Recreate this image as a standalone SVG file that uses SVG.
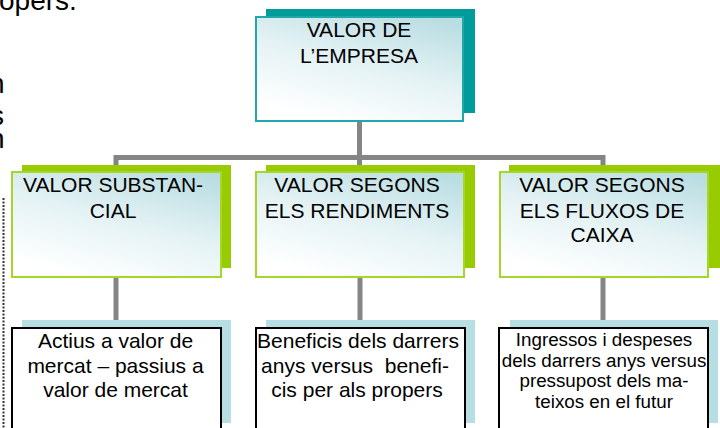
<svg xmlns="http://www.w3.org/2000/svg" width="720" height="428" viewBox="0 0 720 428">
<style>
text{font-family:"Liberation Sans",Arial,sans-serif;fill:#000}
.t{font-size:21px;text-anchor:middle}
.s{font-size:18.8px;text-anchor:middle}
.bg{font-size:28px}
.conn{stroke:#858585;stroke-width:5;fill:none}
.sh1{fill:#009B9B}
.sh2{fill:#99CC00}
.sh3{fill:#B7DEE2}
.b1{fill:url(#g);stroke:#1FA8A8;stroke-width:2}
.b2{fill:url(#g);stroke:#A6D62A;stroke-width:2}
.b3{fill:#fff;stroke:#000;stroke-width:2}
</style>
<defs>
<linearGradient id="g" x1="0.85" y1="0" x2="0.35" y2="1">
<stop offset="0" stop-color="#B9DDE2"/>
<stop offset="0.5" stop-color="#E4F2F4"/>
<stop offset="1" stop-color="#FFFFFF"/>
</linearGradient>
</defs>
<rect width="720" height="428" fill="#fff"/>
<g id="background-text">
<text class="bg" x="-1" y="10">opers.</text>
<text class="bg" x="-11" y="93">n</text>
<text class="bg" x="-10" y="125">s</text>
<text class="bg" x="-11" y="148">n</text>
<line x1="3.5" y1="198" x2="3.5" y2="428" stroke="#333" stroke-width="2" stroke-dasharray="2 1.5"/>
</g>
<g id="connectors">
<path class="conn" d="M359.5 121V165M116 165V157.5H603V165"/>
<path class="conn" d="M116 277V320M360 277V320M603 277V320"/>
</g>
<g id="n-top">
<rect class="sh1" x="266" y="9" width="209" height="104"/>
<rect class="b1" x="256" y="17" width="207" height="104"/>
<text class="t" x="359" y="37">VALOR DE</text>
<text class="t" x="359" y="63">L’EMPRESA</text>
</g>
<g id="n-substancial">
<rect class="sh2" x="22" y="165" width="209" height="103"/>
<rect class="b2" x="12" y="172" width="209" height="105"/>
<text class="t" x="113" y="192">VALOR SUBSTAN-</text>
<text class="t" x="113" y="218">CIAL</text>
</g>
<g id="n-rendiments">
<rect class="sh2" x="266" y="165" width="209" height="103"/>
<rect class="b2" x="256" y="172" width="208" height="105"/>
<text class="t" x="357" y="192">VALOR SEGONS</text>
<text class="t" x="357" y="218">ELS RENDIMENTS</text>
</g>
<g id="n-fluxos">
<rect class="sh2" x="509" y="165" width="211" height="103"/>
<rect class="b2" x="500" y="172" width="208" height="105"/>
<text class="t" x="602" y="192">VALOR SEGONS</text>
<text class="t" x="602" y="218">ELS FLUXOS DE</text>
<text class="t" x="602" y="242">CAIXA</text>
</g>
<g id="n-actius">
<rect class="sh3" x="22" y="320" width="209" height="103"/>
<rect class="b3" x="12" y="328" width="209" height="120"/>
<text class="t" x="115.5" y="348">Actius a valor de</text>
<text class="t" x="115.5" y="373">mercat – passius a</text>
<text class="t" x="115.5" y="397">valor de mercat</text>
</g>
<g id="n-beneficis">
<rect class="sh3" x="266" y="320" width="209" height="103"/>
<rect class="b3" x="256" y="328" width="209" height="120"/>
<text class="t" x="358" y="348">Beneficis dels darrers</text>
<text class="t" x="355" y="373" xml:space="preserve">anys versus  benefi-</text>
<text class="t" x="357" y="397">cis per als propers</text>
</g>
<g id="n-ingressos">
<rect class="sh3" x="510" y="320" width="208" height="103"/>
<rect class="b3" x="499" y="328" width="209" height="120"/>
<text class="s" x="604" y="346">Ingressos i despeses</text>
<text class="s" x="604" y="367">dels darrers anys versus</text>
<text class="s" x="604" y="387">pressupost dels ma-</text>
<text class="s" x="604" y="408">teixos en el futur</text>
</g>
</svg>
